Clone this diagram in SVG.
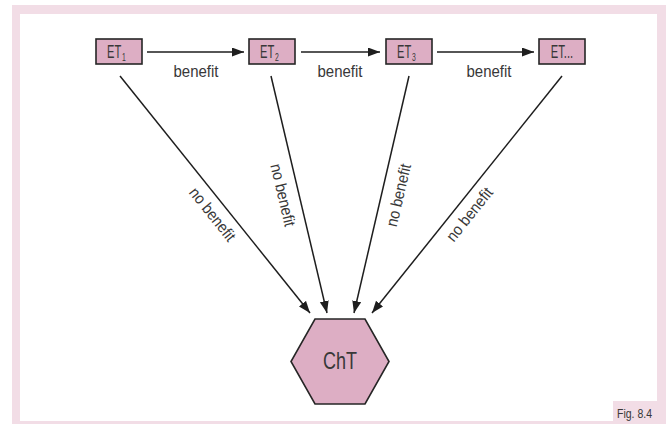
<svg xmlns="http://www.w3.org/2000/svg" width="669" height="424" viewBox="0 0 669 424">
  <style>
    .frame { fill: #f2dde6; }
    .box { fill: #ddaec4; stroke: #262626; stroke-width: 1.6; }
    .hex { fill: #ddaec4; stroke: #262626; stroke-width: 1.6; stroke-linejoin: miter; }
    .lbl { font-family: "Liberation Sans", Arial, sans-serif; fill: #383838; }
    .et { font-size: 18px; }
    .sub { font-size: 11px; }
    .edge { stroke: #1e1e1e; stroke-width: 1.5; fill: none; marker-end: url(#head); }
  </style>
  <defs>
    <marker id="head" markerUnits="userSpaceOnUse" markerWidth="13" markerHeight="10" refX="12" refY="4.5" orient="auto">
      <path d="M0,0 L12,4.5 L0,9 z" fill="#1e1e1e"/>
    </marker>
  </defs>

  <!-- page frame -->
  <g id="frame">
    <rect class="frame" x="12" y="5" width="654" height="9"/>
    <rect class="frame" x="12" y="5" width="8" height="419"/>
    <rect class="frame" x="657" y="5" width="9" height="419"/>
    <rect class="frame" x="12" y="421" width="654" height="3"/>
    <rect class="frame" x="613" y="401" width="53" height="23"/>
    <text class="lbl" x="617" y="418" font-size="13" textLength="35" lengthAdjust="spacingAndGlyphs">Fig. 8.4</text>
  </g>

  <!-- connectors -->
  <g id="connectors">
    <line class="edge" x1="147" y1="52" x2="244" y2="52"/>
    <line class="edge" x1="301" y1="52" x2="380" y2="52"/>
    <line class="edge" x1="437" y1="52" x2="534" y2="52"/>
    <text class="lbl" x="196" y="77" font-size="16" text-anchor="middle" textLength="45" lengthAdjust="spacingAndGlyphs">benefit</text>
    <text class="lbl" x="340" y="77" font-size="16" text-anchor="middle" textLength="45" lengthAdjust="spacingAndGlyphs">benefit</text>
    <text class="lbl" x="489" y="77" font-size="16" text-anchor="middle" textLength="45" lengthAdjust="spacingAndGlyphs">benefit</text>

    <line class="edge" x1="120" y1="76" x2="310" y2="313"/>
    <line class="edge" x1="271" y1="76" x2="327" y2="313"/>
    <line class="edge" x1="409" y1="76" x2="354" y2="313"/>
    <line class="edge" x1="562" y1="76" x2="372" y2="313"/>

    <text class="lbl" font-size="16" text-anchor="middle" textLength="64" lengthAdjust="spacingAndGlyphs" transform="translate(213,214) rotate(51.3)" x="0" y="6">no benefit</text>
    <text class="lbl" font-size="16" text-anchor="middle" textLength="64" lengthAdjust="spacingAndGlyphs" transform="translate(283.5,195) rotate(76.7)" x="0" y="6">no benefit</text>
    <text class="lbl" font-size="16" text-anchor="middle" textLength="64" lengthAdjust="spacingAndGlyphs" transform="translate(398,195) rotate(-76.9)" x="0" y="6">no benefit</text>
    <text class="lbl" font-size="16" text-anchor="middle" textLength="64" lengthAdjust="spacingAndGlyphs" transform="translate(469,214) rotate(-51.3)" x="0" y="6">no benefit</text>
  </g>

  <!-- nodes: condensed labels via horizontal scale -->
  <g id="et1">
    <rect class="box" x="96" y="39" width="46" height="25"/>
    <text class="lbl et" transform="translate(107,58) scale(0.62,1)">ET<tspan class="sub" dx="1" dy="3">1</tspan></text>
  </g>
  <g id="et2">
    <rect class="box" x="249" y="39" width="46" height="25"/>
    <text class="lbl et" transform="translate(260,58) scale(0.62,1)">ET<tspan class="sub" dx="1" dy="3">2</tspan></text>
  </g>
  <g id="et3">
    <rect class="box" x="386" y="39" width="46" height="25"/>
    <text class="lbl et" transform="translate(397,58) scale(0.62,1)">ET<tspan class="sub" dx="1" dy="3">3</tspan></text>
  </g>
  <g id="etn">
    <rect class="box" x="539" y="39" width="46" height="25"/>
    <text class="lbl et" transform="translate(562,58) scale(0.62,1)" text-anchor="middle">ET...</text>
  </g>
  <g id="cht">
    <polygon class="hex" points="315,319 365,319 389,361.5 365,404 315,404 291,361.5"/>
    <text class="lbl" x="340" y="369" font-size="24" text-anchor="middle" textLength="34" lengthAdjust="spacingAndGlyphs">ChT</text>
  </g>
</svg>
